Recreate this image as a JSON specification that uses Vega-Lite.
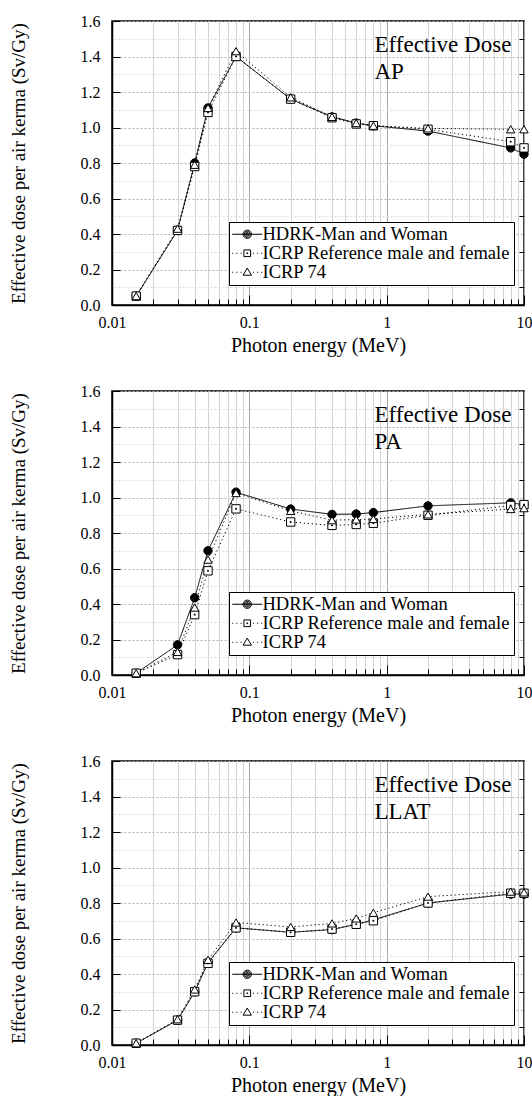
{
  "$schema": "https://vega.github.io/schema/vega-lite/v6.json",
  "background": "white",
  "padding": {"left": 8, "top": 12, "right": 8, "bottom": 0},
  "config": {
    "font": "Liberation Serif",
    "view": {"stroke": "black", "strokeWidth": 1.5},
    "concat": {"spacing": 26},
    "axis": {
      "labelFont": "Liberation Serif",
      "titleFont": "Liberation Serif",
      "labelColor": "black",
      "titleColor": "black",
      "titleFontWeight": "normal",
      "domainColor": "black",
      "domainWidth": 1.5,
      "tickColor": "black",
      "tickWidth": 1,
      "labelOverlap": false,
      "labelBound": false
    },
    "legend": {
      "title": null, "orient": "none", "legendX": 117, "legendY": 201, "direction": "vertical",
      "labelFont": "Liberation Serif", "labelFontSize": 18.5, "labelColor": "black", "labelLimit": 400,
      "strokeColor": "black", "fillColor": "white", "padding": 3, "rowPadding": 0,
      "symbolSize": 70, "symbolStrokeWidth": 1, "symbolStrokeColor": "black", "symbolOffset": 6, "labelOffset": 6
    }
  },
  "datasets": {
    "doses": [
      {"panel": "AP", "energy": 0.015, "HDRK-Man and Woman": 0.05, "ICRP Reference male and female": 0.05, "ICRP 74": 0.05},
      {"panel": "AP", "energy": 0.03, "HDRK-Man and Woman": 0.42, "ICRP Reference male and female": 0.42, "ICRP 74": 0.43},
      {"panel": "AP", "energy": 0.04, "HDRK-Man and Woman": 0.80, "ICRP Reference male and female": 0.78, "ICRP 74": 0.79},
      {"panel": "AP", "energy": 0.05, "HDRK-Man and Woman": 1.11, "ICRP Reference male and female": 1.085, "ICRP 74": 1.11},
      {"panel": "AP", "energy": 0.08, "HDRK-Man and Woman": 1.40, "ICRP Reference male and female": 1.40, "ICRP 74": 1.43},
      {"panel": "AP", "energy": 0.2, "HDRK-Man and Woman": 1.16, "ICRP Reference male and female": 1.16, "ICRP 74": 1.17},
      {"panel": "AP", "energy": 0.4, "HDRK-Man and Woman": 1.06, "ICRP Reference male and female": 1.055, "ICRP 74": 1.06},
      {"panel": "AP", "energy": 0.6, "HDRK-Man and Woman": 1.025, "ICRP Reference male and female": 1.02, "ICRP 74": 1.025},
      {"panel": "AP", "energy": 0.8, "HDRK-Man and Woman": 1.01, "ICRP Reference male and female": 1.01, "ICRP 74": 1.01},
      {"panel": "AP", "energy": 2, "HDRK-Man and Woman": 0.98, "ICRP Reference male and female": 0.99, "ICRP 74": 0.995},
      {"panel": "AP", "energy": 8, "HDRK-Man and Woman": 0.885, "ICRP Reference male and female": 0.92, "ICRP 74": 0.99},
      {"panel": "AP", "energy": 10, "HDRK-Man and Woman": 0.85, "ICRP Reference male and female": 0.885, "ICRP 74": 0.99},
      {"panel": "PA", "energy": 0.015, "HDRK-Man and Woman": 0.01, "ICRP Reference male and female": 0.01, "ICRP 74": 0.01},
      {"panel": "PA", "energy": 0.03, "HDRK-Man and Woman": 0.17, "ICRP Reference male and female": 0.115, "ICRP 74": 0.13},
      {"panel": "PA", "energy": 0.04, "HDRK-Man and Woman": 0.435, "ICRP Reference male and female": 0.34, "ICRP 74": 0.38},
      {"panel": "PA", "energy": 0.05, "HDRK-Man and Woman": 0.70, "ICRP Reference male and female": 0.587, "ICRP 74": 0.65},
      {"panel": "PA", "energy": 0.08, "HDRK-Man and Woman": 1.03, "ICRP Reference male and female": 0.936, "ICRP 74": 1.025},
      {"panel": "PA", "energy": 0.2, "HDRK-Man and Woman": 0.935, "ICRP Reference male and female": 0.862, "ICRP 74": 0.925},
      {"panel": "PA", "energy": 0.4, "HDRK-Man and Woman": 0.905, "ICRP Reference male and female": 0.843, "ICRP 74": 0.872},
      {"panel": "PA", "energy": 0.6, "HDRK-Man and Woman": 0.907, "ICRP Reference male and female": 0.848, "ICRP 74": 0.876},
      {"panel": "PA", "energy": 0.8, "HDRK-Man and Woman": 0.915, "ICRP Reference male and female": 0.855, "ICRP 74": 0.879},
      {"panel": "PA", "energy": 2, "HDRK-Man and Woman": 0.953, "ICRP Reference male and female": 0.90, "ICRP 74": 0.905},
      {"panel": "PA", "energy": 8, "HDRK-Man and Woman": 0.97, "ICRP Reference male and female": 0.955, "ICRP 74": 0.935},
      {"panel": "PA", "energy": 10, "HDRK-Man and Woman": 0.96, "ICRP Reference male and female": 0.96, "ICRP 74": 0.94},
      {"panel": "LLAT", "energy": 0.015, "HDRK-Man and Woman": 0.01, "ICRP Reference male and female": 0.01, "ICRP 74": 0.01},
      {"panel": "LLAT", "energy": 0.03, "HDRK-Man and Woman": 0.14, "ICRP Reference male and female": 0.14, "ICRP 74": 0.145},
      {"panel": "LLAT", "energy": 0.04, "HDRK-Man and Woman": 0.30, "ICRP Reference male and female": 0.30, "ICRP 74": 0.313},
      {"panel": "LLAT", "energy": 0.05, "HDRK-Man and Woman": 0.465, "ICRP Reference male and female": 0.46, "ICRP 74": 0.48},
      {"panel": "LLAT", "energy": 0.08, "HDRK-Man and Woman": 0.66, "ICRP Reference male and female": 0.66, "ICRP 74": 0.69},
      {"panel": "LLAT", "energy": 0.2, "HDRK-Man and Woman": 0.635, "ICRP Reference male and female": 0.635, "ICRP 74": 0.665},
      {"panel": "LLAT", "energy": 0.4, "HDRK-Man and Woman": 0.65, "ICRP Reference male and female": 0.653, "ICRP 74": 0.685},
      {"panel": "LLAT", "energy": 0.6, "HDRK-Man and Woman": 0.68, "ICRP Reference male and female": 0.68, "ICRP 74": 0.713},
      {"panel": "LLAT", "energy": 0.8, "HDRK-Man and Woman": 0.705, "ICRP Reference male and female": 0.70, "ICRP 74": 0.745},
      {"panel": "LLAT", "energy": 2, "HDRK-Man and Woman": 0.80, "ICRP Reference male and female": 0.80, "ICRP 74": 0.836},
      {"panel": "LLAT", "energy": 8, "HDRK-Man and Woman": 0.85, "ICRP Reference male and female": 0.855, "ICRP 74": 0.864},
      {"panel": "LLAT", "energy": 10, "HDRK-Man and Woman": 0.85, "ICRP Reference male and female": 0.855, "ICRP 74": 0.86}
    ]
  },
  "resolve": {"legend": {"shape": "independent"}},
  "vconcat": [
    {
      "width": 412, "height": 284,
      "resolve": {"scale": {"shape": "independent"}, "axis": {"y": "independent"}},
      "layer": [
        {
          "data": {"name": "doses"},
          "transform": [
            {"filter": "datum.panel === 'AP'"},
            {"fold": ["HDRK-Man and Woman", "ICRP Reference male and female", "ICRP 74"], "as": ["series", "dose"]}
          ],
          "mark": {"type": "line", "stroke": "black", "strokeWidth": 1},
          "encoding": {
            "x": {"field": "energy", "type": "quantitative", "scale": {"type": "log", "domain": [0.01, 10], "nice": false},
              "axis": {"title": "Photon energy (MeV)", "titleFontSize": 20, "titlePadding": 1, "labelFontSize": 16, "format": "~g", "labelOverlap": false,
                "values": [0.01,0.02,0.03,0.04,0.05,0.06,0.07,0.08,0.09,0.1,0.2,0.3,0.4,0.5,0.6,0.7,0.8,0.9,1,2,3,4,5,6,7,8,9,10],
                "labelExpr": "indexof([0.01,0.1,1,10], datum.value) >= 0 ? datum.label : ''",
                "tickSize": {"condition": {"test": "indexof([0.01,0.1,1,10], datum.value) >= 0", "value": -10}, "value": -6},
                "labelPadding": 19, "labelFlush": false,
                "grid": true, "gridWidth": 1,
                "gridColor": {"condition": {"test": "indexof([0.01,0.1,1,10], datum.value) >= 0", "value": "#a8a8a8"}, "value": "#d4d4d4"}}},
            "y": {"field": "dose", "type": "quantitative", "scale": {"domain": [0, 1.6], "nice": false},
              "axis": {"orient": "left", "title": "Effective dose per air kerma (Sv/Gy)", "titleFontSize": 19, "titlePadding": 52, "labelOverlap": false,
                "labelFontSize": 16, "format": ".1f",
                "values": [0,0.2,0.4,0.6,0.8,1,1.2,1.4,1.6],
                "tickSize": -8, "labelPadding": 20,
                "grid": true, "gridWidth": 1, "gridDash": [2, 2], "gridColor": "#b4b4b4"}},
            "strokeDash": {"field": "series", "type": "nominal",
              "scale": {"domain": ["HDRK-Man and Woman", "ICRP Reference male and female", "ICRP 74"], "range": [[1, 0], [1.2, 2.8], [1.2, 2.8]]},
              "legend": null}
          }
        },
        {
          "data": {"name": "doses"},
          "transform": [
            {"filter": "datum.panel === 'AP'"},
            {"fold": ["HDRK-Man and Woman", "ICRP Reference male and female", "ICRP 74"], "as": ["series", "dose"]}
          ],
          "mark": {"type": "point", "filled": true, "stroke": "black", "strokeWidth": 1, "size": 70, "opacity": 1},
          "encoding": {
            "x": {"field": "energy", "type": "quantitative"},
            "y": {"field": "dose", "type": "quantitative",
              "axis": {"orient": "right", "title": null, "labels": false, "domain": false,
                "values": [0.1,0.3,0.5,0.7,0.9,1.1,1.3,1.5], "tickSize": -5,
                "grid": true, "gridWidth": 1, "gridDash": [2, 2], "gridColor": "#dadada"}},
            "fill": {"field": "series", "type": "nominal",
              "scale": {"domain": ["HDRK-Man and Woman", "ICRP Reference male and female", "ICRP 74"], "range": ["black", "white", "white"]},
              "legend": null},
            "shape": {"field": "series", "type": "nominal",
              "scale": {"domain": ["HDRK-Man and Woman", "ICRP Reference male and female", "ICRP 74"],
                "range": ["circle", "M-1,-1H1V1H-1ZM-0.12,-0.12H0.12V0.12H-0.12Z", "triangle-up"]},
              "legend": null}
          }
        },
        {
          "data": {"values": []},
          "mark": {"type": "point", "filled": false, "stroke": "black", "strokeWidth": 1, "size": 70, "opacity": 1},
          "encoding": {
            "shape": {"field": "series", "type": "nominal",
              "scale": {"domain": ["HDRK-Man and Woman", "ICRP Reference male and female", "ICRP 74"],
                "range": [
                  "M-3.6,0H-1M1,0H3.6M1,0A1,1,0,1,1,-1,0A1,1,0,1,1,1,0ZM0.72,0A0.72,0.72,0,1,1,-0.72,0A0.72,0.72,0,1,1,0.72,0ZM0.45,0A0.45,0.45,0,1,1,-0.45,0A0.45,0.45,0,1,1,0.45,0ZM0.2,0A0.2,0.2,0,1,1,-0.2,0A0.2,0.2,0,1,1,0.2,0ZM-1,0H1",
                  "M-3.6,0h0.25M-2.6,0h0.25M-1.6,0h0.25M1.35,0h0.25M2.35,0h0.25M3.35,0h0.25M-0.8,-0.8H0.8V0.8H-0.8ZM-0.1,-0.1H0.1V0.1H-0.1Z",
                  "M-3.6,0h0.25M-2.6,0h0.25M-1.6,0h0.25M1.35,0h0.25M2.35,0h0.25M3.35,0h0.25M0,-1L1,0.7H-1Z"]},
              "legend": {}}
          }
        },
        {
          "data": {"values": [{}]},
          "mark": {"type": "text", "font": "Liberation Serif", "fontSize": 23, "align": "left", "baseline": "alphabetic", "lineHeight": 27, "color": "black"},
          "encoding": {"x": {"datum": 0.815}, "y": {"datum": 1.427, "axis": null}, "text": {"value": ["Effective Dose", "AP"]}}
        }
      ]
    },
    {
      "width": 412, "height": 284,
      "resolve": {"scale": {"shape": "independent"}, "axis": {"y": "independent"}},
      "layer": [
        {
          "data": {"name": "doses"},
          "transform": [
            {"filter": "datum.panel === 'PA'"},
            {"fold": ["HDRK-Man and Woman", "ICRP Reference male and female", "ICRP 74"], "as": ["series", "dose"]}
          ],
          "mark": {"type": "line", "stroke": "black", "strokeWidth": 1},
          "encoding": {
            "x": {"field": "energy", "type": "quantitative", "scale": {"type": "log", "domain": [0.01, 10], "nice": false},
              "axis": {"title": "Photon energy (MeV)", "titleFontSize": 20, "titlePadding": 1, "labelFontSize": 16, "format": "~g", "labelOverlap": false,
                "values": [0.01,0.02,0.03,0.04,0.05,0.06,0.07,0.08,0.09,0.1,0.2,0.3,0.4,0.5,0.6,0.7,0.8,0.9,1,2,3,4,5,6,7,8,9,10],
                "labelExpr": "indexof([0.01,0.1,1,10], datum.value) >= 0 ? datum.label : ''",
                "tickSize": {"condition": {"test": "indexof([0.01,0.1,1,10], datum.value) >= 0", "value": -10}, "value": -6},
                "labelPadding": 19, "labelFlush": false,
                "grid": true, "gridWidth": 1,
                "gridColor": {"condition": {"test": "indexof([0.01,0.1,1,10], datum.value) >= 0", "value": "#a8a8a8"}, "value": "#d4d4d4"}}},
            "y": {"field": "dose", "type": "quantitative", "scale": {"domain": [0, 1.6], "nice": false},
              "axis": {"orient": "left", "title": "Effective dose per air kerma (Sv/Gy)", "titleFontSize": 19, "titlePadding": 52, "labelOverlap": false,
                "labelFontSize": 16, "format": ".1f",
                "values": [0,0.2,0.4,0.6,0.8,1,1.2,1.4,1.6],
                "tickSize": -8, "labelPadding": 20,
                "grid": true, "gridWidth": 1, "gridDash": [2, 2], "gridColor": "#b4b4b4"}},
            "strokeDash": {"field": "series", "type": "nominal",
              "scale": {"domain": ["HDRK-Man and Woman", "ICRP Reference male and female", "ICRP 74"], "range": [[1, 0], [1.2, 2.8], [1.2, 2.8]]},
              "legend": null}
          }
        },
        {
          "data": {"name": "doses"},
          "transform": [
            {"filter": "datum.panel === 'PA'"},
            {"fold": ["HDRK-Man and Woman", "ICRP Reference male and female", "ICRP 74"], "as": ["series", "dose"]}
          ],
          "mark": {"type": "point", "filled": true, "stroke": "black", "strokeWidth": 1, "size": 70, "opacity": 1},
          "encoding": {
            "x": {"field": "energy", "type": "quantitative"},
            "y": {"field": "dose", "type": "quantitative",
              "axis": {"orient": "right", "title": null, "labels": false, "domain": false,
                "values": [0.1,0.3,0.5,0.7,0.9,1.1,1.3,1.5], "tickSize": -5,
                "grid": true, "gridWidth": 1, "gridDash": [2, 2], "gridColor": "#dadada"}},
            "fill": {"field": "series", "type": "nominal",
              "scale": {"domain": ["HDRK-Man and Woman", "ICRP Reference male and female", "ICRP 74"], "range": ["black", "white", "white"]},
              "legend": null},
            "shape": {"field": "series", "type": "nominal",
              "scale": {"domain": ["HDRK-Man and Woman", "ICRP Reference male and female", "ICRP 74"],
                "range": ["circle", "M-1,-1H1V1H-1ZM-0.12,-0.12H0.12V0.12H-0.12Z", "triangle-up"]},
              "legend": null}
          }
        },
        {
          "data": {"values": []},
          "mark": {"type": "point", "filled": false, "stroke": "black", "strokeWidth": 1, "size": 70, "opacity": 1},
          "encoding": {
            "shape": {"field": "series", "type": "nominal",
              "scale": {"domain": ["HDRK-Man and Woman", "ICRP Reference male and female", "ICRP 74"],
                "range": [
                  "M-3.6,0H-1M1,0H3.6M1,0A1,1,0,1,1,-1,0A1,1,0,1,1,1,0ZM0.72,0A0.72,0.72,0,1,1,-0.72,0A0.72,0.72,0,1,1,0.72,0ZM0.45,0A0.45,0.45,0,1,1,-0.45,0A0.45,0.45,0,1,1,0.45,0ZM0.2,0A0.2,0.2,0,1,1,-0.2,0A0.2,0.2,0,1,1,0.2,0ZM-1,0H1",
                  "M-3.6,0h0.25M-2.6,0h0.25M-1.6,0h0.25M1.35,0h0.25M2.35,0h0.25M3.35,0h0.25M-0.8,-0.8H0.8V0.8H-0.8ZM-0.1,-0.1H0.1V0.1H-0.1Z",
                  "M-3.6,0h0.25M-2.6,0h0.25M-1.6,0h0.25M1.35,0h0.25M2.35,0h0.25M3.35,0h0.25M0,-1L1,0.7H-1Z"]},
              "legend": {}}
          }
        },
        {
          "data": {"values": [{}]},
          "mark": {"type": "text", "font": "Liberation Serif", "fontSize": 23, "align": "left", "baseline": "alphabetic", "lineHeight": 27, "color": "black"},
          "encoding": {"x": {"datum": 0.815}, "y": {"datum": 1.427, "axis": null}, "text": {"value": ["Effective Dose", "PA"]}}
        }
      ]
    },
    {
      "width": 412, "height": 284,
      "resolve": {"scale": {"shape": "independent"}, "axis": {"y": "independent"}},
      "layer": [
        {
          "data": {"name": "doses"},
          "transform": [
            {"filter": "datum.panel === 'LLAT'"},
            {"fold": ["HDRK-Man and Woman", "ICRP Reference male and female", "ICRP 74"], "as": ["series", "dose"]}
          ],
          "mark": {"type": "line", "stroke": "black", "strokeWidth": 1},
          "encoding": {
            "x": {"field": "energy", "type": "quantitative", "scale": {"type": "log", "domain": [0.01, 10], "nice": false},
              "axis": {"title": "Photon energy (MeV)", "titleFontSize": 20, "titlePadding": 1, "labelFontSize": 16, "format": "~g", "labelOverlap": false,
                "values": [0.01,0.02,0.03,0.04,0.05,0.06,0.07,0.08,0.09,0.1,0.2,0.3,0.4,0.5,0.6,0.7,0.8,0.9,1,2,3,4,5,6,7,8,9,10],
                "labelExpr": "indexof([0.01,0.1,1,10], datum.value) >= 0 ? datum.label : ''",
                "tickSize": {"condition": {"test": "indexof([0.01,0.1,1,10], datum.value) >= 0", "value": -10}, "value": -6},
                "labelPadding": 19, "labelFlush": false,
                "grid": true, "gridWidth": 1,
                "gridColor": {"condition": {"test": "indexof([0.01,0.1,1,10], datum.value) >= 0", "value": "#a8a8a8"}, "value": "#d4d4d4"}}},
            "y": {"field": "dose", "type": "quantitative", "scale": {"domain": [0, 1.6], "nice": false},
              "axis": {"orient": "left", "title": "Effective dose per air kerma (Sv/Gy)", "titleFontSize": 19, "titlePadding": 52, "labelOverlap": false,
                "labelFontSize": 16, "format": ".1f",
                "values": [0,0.2,0.4,0.6,0.8,1,1.2,1.4,1.6],
                "tickSize": -8, "labelPadding": 20,
                "grid": true, "gridWidth": 1, "gridDash": [2, 2], "gridColor": "#b4b4b4"}},
            "strokeDash": {"field": "series", "type": "nominal",
              "scale": {"domain": ["HDRK-Man and Woman", "ICRP Reference male and female", "ICRP 74"], "range": [[1, 0], [1.2, 2.8], [1.2, 2.8]]},
              "legend": null}
          }
        },
        {
          "data": {"name": "doses"},
          "transform": [
            {"filter": "datum.panel === 'LLAT'"},
            {"fold": ["HDRK-Man and Woman", "ICRP Reference male and female", "ICRP 74"], "as": ["series", "dose"]}
          ],
          "mark": {"type": "point", "filled": true, "stroke": "black", "strokeWidth": 1, "size": 70, "opacity": 1},
          "encoding": {
            "x": {"field": "energy", "type": "quantitative"},
            "y": {"field": "dose", "type": "quantitative",
              "axis": {"orient": "right", "title": null, "labels": false, "domain": false,
                "values": [0.1,0.3,0.5,0.7,0.9,1.1,1.3,1.5], "tickSize": -5,
                "grid": true, "gridWidth": 1, "gridDash": [2, 2], "gridColor": "#dadada"}},
            "fill": {"field": "series", "type": "nominal",
              "scale": {"domain": ["HDRK-Man and Woman", "ICRP Reference male and female", "ICRP 74"], "range": ["black", "white", "white"]},
              "legend": null},
            "shape": {"field": "series", "type": "nominal",
              "scale": {"domain": ["HDRK-Man and Woman", "ICRP Reference male and female", "ICRP 74"],
                "range": ["circle", "M-1,-1H1V1H-1ZM-0.12,-0.12H0.12V0.12H-0.12Z", "triangle-up"]},
              "legend": null}
          }
        },
        {
          "data": {"values": []},
          "mark": {"type": "point", "filled": false, "stroke": "black", "strokeWidth": 1, "size": 70, "opacity": 1},
          "encoding": {
            "shape": {"field": "series", "type": "nominal",
              "scale": {"domain": ["HDRK-Man and Woman", "ICRP Reference male and female", "ICRP 74"],
                "range": [
                  "M-3.6,0H-1M1,0H3.6M1,0A1,1,0,1,1,-1,0A1,1,0,1,1,1,0ZM0.72,0A0.72,0.72,0,1,1,-0.72,0A0.72,0.72,0,1,1,0.72,0ZM0.45,0A0.45,0.45,0,1,1,-0.45,0A0.45,0.45,0,1,1,0.45,0ZM0.2,0A0.2,0.2,0,1,1,-0.2,0A0.2,0.2,0,1,1,0.2,0ZM-1,0H1",
                  "M-3.6,0h0.25M-2.6,0h0.25M-1.6,0h0.25M1.35,0h0.25M2.35,0h0.25M3.35,0h0.25M-0.8,-0.8H0.8V0.8H-0.8ZM-0.1,-0.1H0.1V0.1H-0.1Z",
                  "M-3.6,0h0.25M-2.6,0h0.25M-1.6,0h0.25M1.35,0h0.25M2.35,0h0.25M3.35,0h0.25M0,-1L1,0.7H-1Z"]},
              "legend": {}}
          }
        },
        {
          "data": {"values": [{}]},
          "mark": {"type": "text", "font": "Liberation Serif", "fontSize": 23, "align": "left", "baseline": "alphabetic", "lineHeight": 27, "color": "black"},
          "encoding": {"x": {"datum": 0.815}, "y": {"datum": 1.427, "axis": null}, "text": {"value": ["Effective Dose", "LLAT"]}}
        }
      ]
    }
  ]
}
